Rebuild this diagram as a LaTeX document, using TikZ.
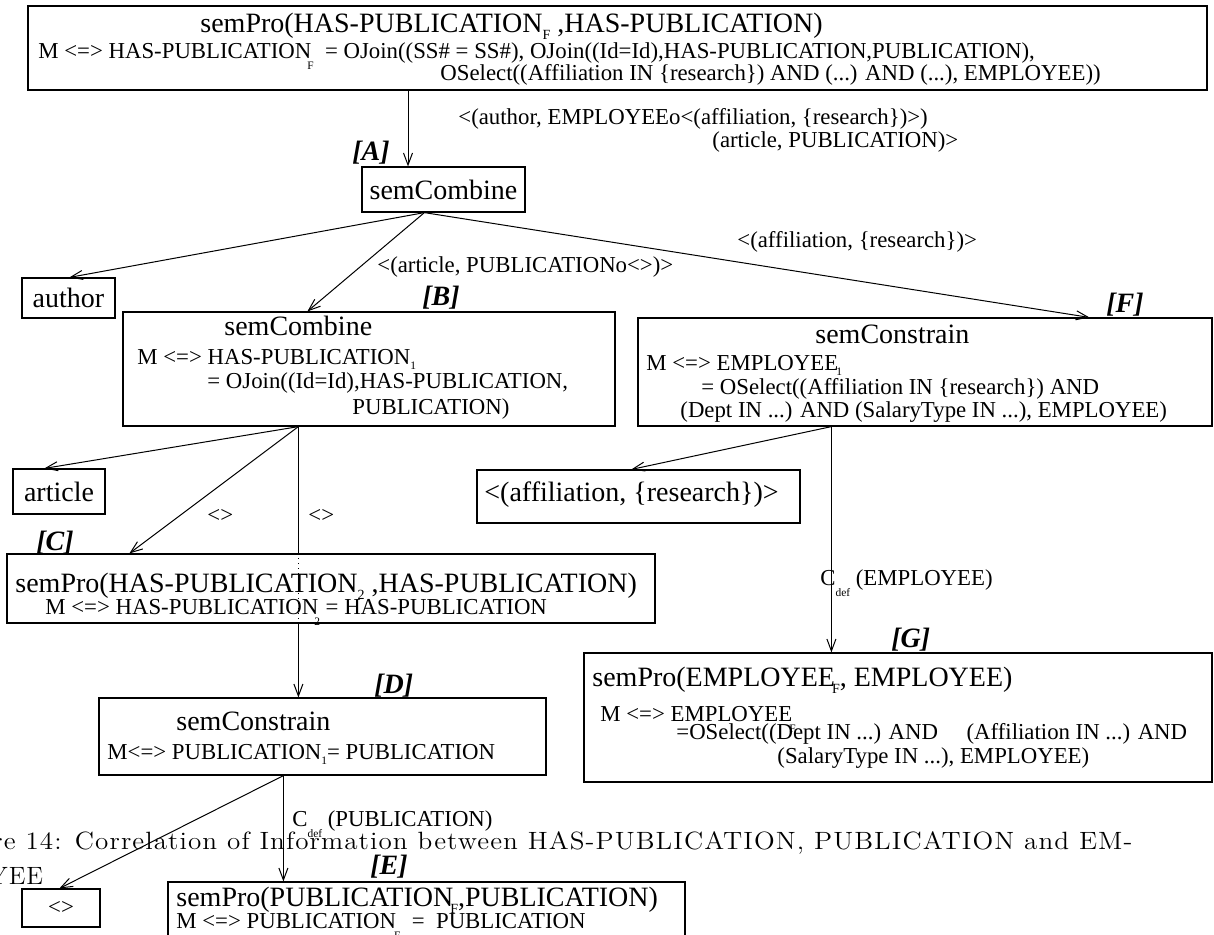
\documentclass[tikz,border=0pt]{standalone}
\usepackage{fontspec}
\setmainfont{Liberation Serif}
\newfontfamily\capfont[LetterSpace=4]{Latin Modern Roman}
\usetikzlibrary{arrows.meta,fit,calc}
\newcommand{\mysub}[1]{\raisebox{-0.55ex}{\scalebox{0.5}{#1}}}
\newcommand{\lowsub}[1]{\raisebox{-1.1ex}{\scalebox{0.5}{#1}}}
\newcommand{\mkbox}[5]{\coordinate (#1-nw) at (#2,#3); \coordinate (#1-se) at (#4,#5); \node[box, fit=(#1-nw)(#1-se)] (#1) {};}
\tikzset{
  box/.style={draw, line width=0.6pt, inner sep=0pt},
  arr/.style={line width=0.5pt, -{Straight Barb[length=6pt,width=4.5pt]}},
  ln/.style={line width=0.5pt},
  txt/.style={anchor=base west, inner sep=0pt, font=\fontsize{11.4}{13}\selectfont},
  big/.style={anchor=base west, inner sep=0pt, font=\fontsize{14}{16}\selectfont},
  tag/.style={anchor=base west, inner sep=0pt, font=\fontsize{14}{16}\selectfont\bfseries\itshape},
  elab/.style={anchor=base west, inner sep=0pt, font=\fontsize{11.4}{13}\selectfont},
  ctr/.style={inner sep=0pt, font=\fontsize{14}{16}\selectfont},
  captxt/.style={anchor=base west, inner sep=0pt, font=\capfont\fontsize{12.5}{15}\selectfont},
}
\begin{document}
\begin{tikzpicture}[x=0.5pt,y=-0.5pt]
\clip (0,0) rectangle (1214,934);
\fill[white] (0,0) rectangle (1214,934);
% top box
\mkbox{top}{28}{6}{1207}{90}
\node[big] (t1) at (200,32) {semPro(HAS-PUBLICATION\mysub{F} ,HAS-PUBLICATION)};
\node[txt] (t2) at (38,58) {M <=> HAS-PUBLICATION\kern-2pt\lowsub{F}\ \ = OJoin((SS\# = SS\#), OJoin((Id=Id),HAS-PUBLICATION,PUBLICATION),};
\node[txt] (t3) at (440,80) {OSelect((Affiliation IN \{research\}) AND (...) AND (...), EMPLOYEE))};
% A
\mkbox{A}{362}{167}{525}{212}
\node[ctr] (a1) at (A) {semCombine};
\node[tag] (tagA) at (352,160) {[A]};
\node[elab] (l1) at (458,124) {<(author, EMPLOYEEo<(affiliation, \{research\})>)};
\node[elab] (l2) at (712,147) {(article, PUBLICATION)>};
% author
\mkbox{author}{22}{278}{115}{318}
\node[ctr] (au) at (author) {author};
% B
\mkbox{B}{123}{312}{615}{426}
\node[tag] (tagB) at (422,305) {[B]};
\node[big] (b1) at (224,335) {semCombine};
\node[txt] (b2) at (137,364) {M <=> HAS-PUBLICATION\mysub{1}};
\node[txt] (b3) at (207,388) {= OJoin((Id=Id),HAS-PUBLICATION,};
\node[txt] (b4) at (352,414) {PUBLICATION)};
\node[elab] (l3) at (377,272) {<(article, PUBLICATIONo<>)>};
% F
\mkbox{F}{638}{318}{1212}{426}
\node[tag] (tagF) at (1106,312) {[F]};
\node[big] (f1) at (815,343) {semConstrain};
\node[txt] (f2) at (646,370) {M <=> EMPLOYEE\kern-1pt\mysub{1}};
\node[txt] (f3) at (701,394) {= OSelect((Affiliation IN \{research\}) AND};
\node[txt] (f4) at (680,417) {(Dept IN ...) AND (SalaryType IN ...), EMPLOYEE)};
\node[elab] (l4) at (737,247) {<(affiliation, \{research\})>};
% article
\mkbox{art}{13}{469}{105}{514}
\node[ctr] (ar) at (art) {article};
% aff
\mkbox{aff}{477}{470}{800}{523}
\node[big] (af) at (484,501) {<(affiliation, \{research\})>};
% <> labels
\node[elab] (l5) at (207,522) {<>};
\node[elab] (l6) at (308,522) {<>};
% C
\mkbox{C}{7}{554}{655}{623}
\node[tag] (tagC) at (36,550) {[C]};
\node[big] (c1) at (15,592) {semPro(HAS-PUBLICATION\mysub{2} ,HAS-PUBLICATION)};
\node[txt] (c2) at (45,614) {M <=> HAS-PUBLICATION\kern-2pt\lowsub{2} = HAS-PUBLICATION};
% Cdef employee
\node[elab] (l7) at (820,585) {C\lowsub{def} (EMPLOYEE)};
% G
\mkbox{G}{584}{653}{1212}{782}
\node[tag] (tagG) at (891,647) {[G]};
\node[big] (g1) at (592,686) {semPro(EMPLOYEE\kern-1.5pt\mysub{F}, EMPLOYEE)};
\node[txt] (g2) at (600,721) {M <=> EMPLOYEE\kern-1.5pt\lowsub{F}};
\node[txt] (g3) at (676,739) {=OSelect((Dept IN ...) AND \quad (Affiliation IN ...) AND};
\node[txt] (g4) at (777,763) {(SalaryType IN ...), EMPLOYEE)};
% D
\mkbox{D}{99}{698}{546}{775}
\node[tag] (tagD) at (374,693) {[D]};
\node[big] (d1) at (176,730) {semConstrain};
\node[txt] (d2) at (107,759) {M<=> PUBLICATION\mysub{1}= PUBLICATION};
% caption
\node[captxt] (cap1) at (-8,849) {\resizebox{570pt}{\height}{re 14: Correlation of Information between HAS-PUBLICATION, PUBLICATION and EM-}};
\node[captxt] (cap2) at (-11,884) {YEE};
% Cdef publication
\node[elab] (l8) at (292,826) {C\lowsub{def} (PUBLICATION)};
% dia
\mkbox{dia}{22}{889}{100}{927}
\node[font=\fontsize{11.4}{13}\selectfont, inner sep=0pt] (di) at (dia) {<>};
% E
\mkbox{E}{168}{882}{685}{950}
\node[tag] (tagE) at (370,874) {[E]};
\node[big] (e1) at (176,906) {semPro(PUBLICATION\kern-1.5pt\mysub{F},PUBLICATION)};
\node[txt] (e2) at (176,928) {M <=> PUBLICATION\kern-1pt\lowsub{F}\ \ = \ PUBLICATION};
% edges
\draw[arr] (top.south -| 408,0) -- (A.north -| 408,0);
\draw[arr] ($(A.south west)+(63,0)$) -- ($(author.north west)+(48,0)$);
\draw[arr] ($(A.south west)+(63,0)$) -- ($(B.north west)+(185,0)$);
\draw[arr] ($(A.south west)+(63,0)$) -- ($(F.north west)+(452,0)$);
\draw[arr] ($(B.south west)+(176,0)$) -- ($(art.north west)+(32,0)$);
\draw[arr] ($(B.south west)+(176,0)$) -- ($(C.north west)+(123,0)$);
\draw[ln] ($(B.south west)+(176,0)$) -- ($(C.north west)+(292,0)$);
\draw[ln, dotted] ($(C.north west)+(292,0)$) -- ($(C.south west)+(292,0)$);
\draw[arr] ($(C.south west)+(292,0)$) -- ($(D.north west)+(200,0)$);
\draw[arr] ($(F.south west)+(194,0)$) -- ($(aff.north west)+(155,0)$);
\draw[arr] ($(F.south west)+(194,0)$) -- ($(G.north west)+(248,0)$);
\draw[arr] ($(D.south west)+(185,0)$) -- ($(dia.north west)+(38,0)$);
\draw[arr] ($(D.south west)+(185,0)$) -- ($(E.north west)+(116,0)$);
\end{tikzpicture}
\end{document}
